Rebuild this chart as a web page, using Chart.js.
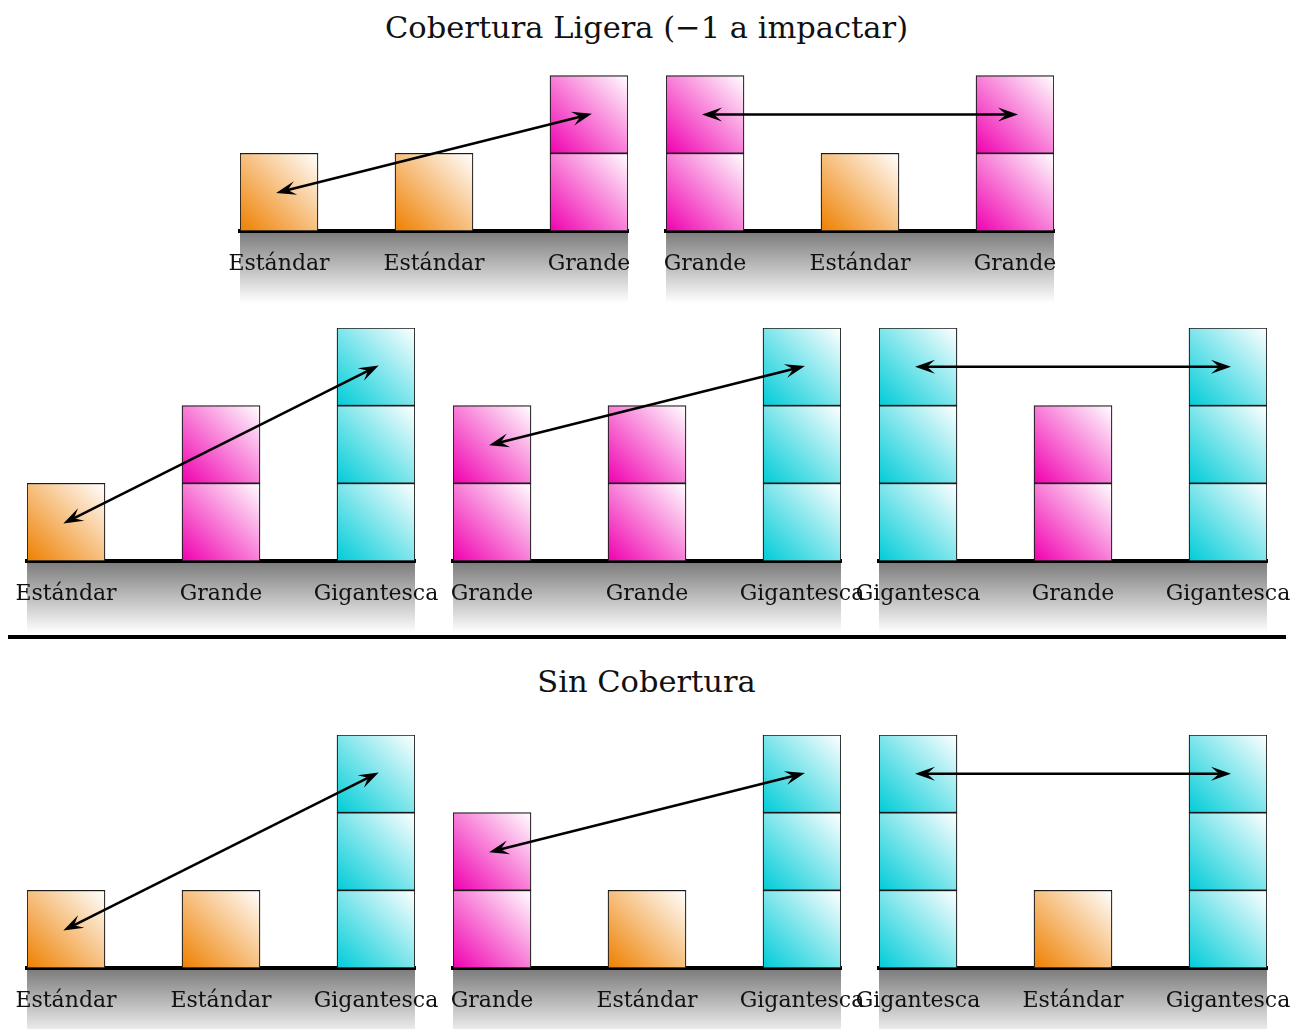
<!DOCTYPE html>
<html>
<head>
<meta charset="utf-8">
<script src="https://cdn.jsdelivr.net/npm/chart.js@4"></script>
<style>
body{margin:0;background:#fff;}
#page{position:relative;width:1293px;height:1029px;overflow:hidden;font-family:"DejaVu Serif",serif;}
.title{position:absolute;left:0;width:1293px;text-align:center;font-size:30.5px;line-height:36px;color:#111;}
#sep{position:absolute;left:8px;width:1278px;top:635px;height:4px;background:#000;}
canvas{position:absolute;}
</style>
</head>
<body>
<div id="page">
<div class="title" style="top:10px">Cobertura Ligera (−1 a impactar)</div>
<div id="sep"></div>
<div class="title" style="top:664px">Sin Cobertura</div>
</div>
<script>
// sizes and how many blocks each one stacks
const sizeNames = ['Estándar', 'Grande', 'Gigantesca'];
const sizeBlocks = [1, 2, 3];
const sizeColors = ['#ee8000', '#f000b0', '#00ccd8'];

// the three models of each panel, left to right
const panelLabels = [
  ['Estándar', 'Estándar', 'Grande'],
  ['Grande', 'Estándar', 'Grande'],
  ['Estándar', 'Grande', 'Gigantesca'],
  ['Grande', 'Grande', 'Gigantesca'],
  ['Gigantesca', 'Grande', 'Gigantesca'],
  ['Estándar', 'Estándar', 'Gigantesca'],
  ['Grande', 'Estándar', 'Gigantesca'],
  ['Gigantesca', 'Estándar', 'Gigantesca']
];

// where each panel sits: left edge and baseline
const panelPos = [[240, 231], [666, 231], [27, 561], [453, 561], [879, 561], [27, 968], [453, 968], [879, 968]];

const PAD_X = 50, PAD_TOP = 12, AREA_W = 388, AREA_H = 233, AXIS_H = 80, BAR_W = 78;
const page = document.getElementById('page');

function blockFill(c, labels, level){
  const chart = c.chart, i = c.dataIndex;
  const base = sizeColors[sizeNames.indexOf(labels[i])];
  if(!chart.chartArea) return base;
  const xs = chart.scales.x, ys = chart.scales.y;
  const x0 = xs.getPixelForValue(i) - BAR_W/2, x1 = x0 + BAR_W;
  const y0 = ys.getPixelForValue(level), y1 = ys.getPixelForValue(level + 1);
  const g = chart.ctx.createLinearGradient(x0, y0, x1, y1);
  g.addColorStop(0, base);
  g.addColorStop(1, '#ffffff');
  return g;
}

const shadowPlugin = {
  id: 'shadow',
  beforeDraw(chart){
    const ctx = chart.ctx, a = chart.chartArea;
    const g = ctx.createLinearGradient(0, a.bottom, 0, a.bottom + 72);
    g.addColorStop(0, '#7a7a7a');
    g.addColorStop(1, '#ffffff');
    ctx.save();
    ctx.fillStyle = g;
    ctx.fillRect(a.left, a.bottom, a.right - a.left, 72);
    ctx.restore();
  }
};

function arrowHead(ctx, tx, ty, a){
  const L = 20, W = 7;
  const cx = Math.cos(a), cy = Math.sin(a);
  ctx.beginPath();
  ctx.moveTo(tx, ty);
  ctx.lineTo(tx - L*cx - W*cy, ty - L*cy + W*cx);
  ctx.lineTo(tx - 0.6*L*cx, ty - 0.6*L*cy);
  ctx.lineTo(tx - L*cx + W*cy, ty - L*cy - W*cx);
  ctx.closePath();
  ctx.fill();
}

const arrowPlugin = {
  id: 'arrows',
  afterDatasetsDraw(chart, args, opts){
    const ctx = chart.ctx, x = chart.scales.x, y = chart.scales.y;
    let x1 = x.getPixelForValue(opts.from[0]), y1 = y.getPixelForValue(opts.from[1]);
    let x2 = x.getPixelForValue(opts.to[0]), y2 = y.getPixelForValue(opts.to[1]);
    const a = Math.atan2(y2 - y1, x2 - x1), cx = Math.cos(a), cy = Math.sin(a);
    x1 -= 3*cx; y1 -= 3*cy; x2 += 3*cx; y2 += 3*cy;
    ctx.save();
    ctx.strokeStyle = '#000';
    ctx.fillStyle = '#000';
    ctx.lineWidth = 2.5;
    ctx.beginPath();
    ctx.moveTo(x1 + 11*cx, y1 + 11*cy);
    ctx.lineTo(x2 - 11*cx, y2 - 11*cy);
    ctx.stroke();
    arrowHead(ctx, x2, y2, a);
    arrowHead(ctx, x1, y1, a + Math.PI);
    ctx.restore();
  }
};

panelLabels.forEach((labels, p) => {
  const heights = labels.map(l => sizeBlocks[sizeNames.indexOf(l)]);
  const canvas = document.createElement('canvas');
  canvas.width = AREA_W + 2*PAD_X;
  canvas.height = PAD_TOP + AREA_H + AXIS_H;
  canvas.style.left = (panelPos[p][0] - PAD_X) + 'px';
  canvas.style.top = (panelPos[p][1] - AREA_H - PAD_TOP) + 'px';
  page.appendChild(canvas);

  const datasets = [0, 1, 2].map(level => ({
    data: heights.map((h, i) => ({x: i, y: h > level ? 1 : null})),
    backgroundColor: c => blockFill(c, labels, level),
    borderColor: '#1a1a1a',
    borderWidth: 1.2,
    borderSkipped: false,
    barThickness: BAR_W
  }));

  new Chart(canvas, {
    type: 'bar',
    data: {datasets: datasets},
    options: {
      responsive: false,
      animation: false,
      devicePixelRatio: 1,
      layout: {padding: {left: PAD_X, right: PAD_X, top: PAD_TOP, bottom: 0}},
      plugins: {
        legend: {display: false},
        tooltip: {enabled: false},
        arrows: {from: [0, heights[0] - 0.5], to: [2, heights[2] - 0.5]}
      },
      scales: {
        x: {
          type: 'linear', stacked: true, offset: false,
          min: -BAR_W/2/155, max: 2 + BAR_W/2/155,
          grid: {display: false},
          border: {display: true, color: '#000', width: 4},
          afterBuildTicks: s => { s.ticks = [0, 1, 2].map(v => ({value: v})); },
          afterFit: s => { s.height = AXIS_H; },
          ticks: {
            autoSkip: false, maxRotation: 0, padding: 12, color: '#111',
            font: {family: 'DejaVu Serif', size: 22},
            callback: v => labels[v]
          }
        },
        y: {display: false, stacked: true, min: 0, max: 3}
      }
    },
    plugins: [shadowPlugin, arrowPlugin]
  });
});
</script>
</body>
</html>
